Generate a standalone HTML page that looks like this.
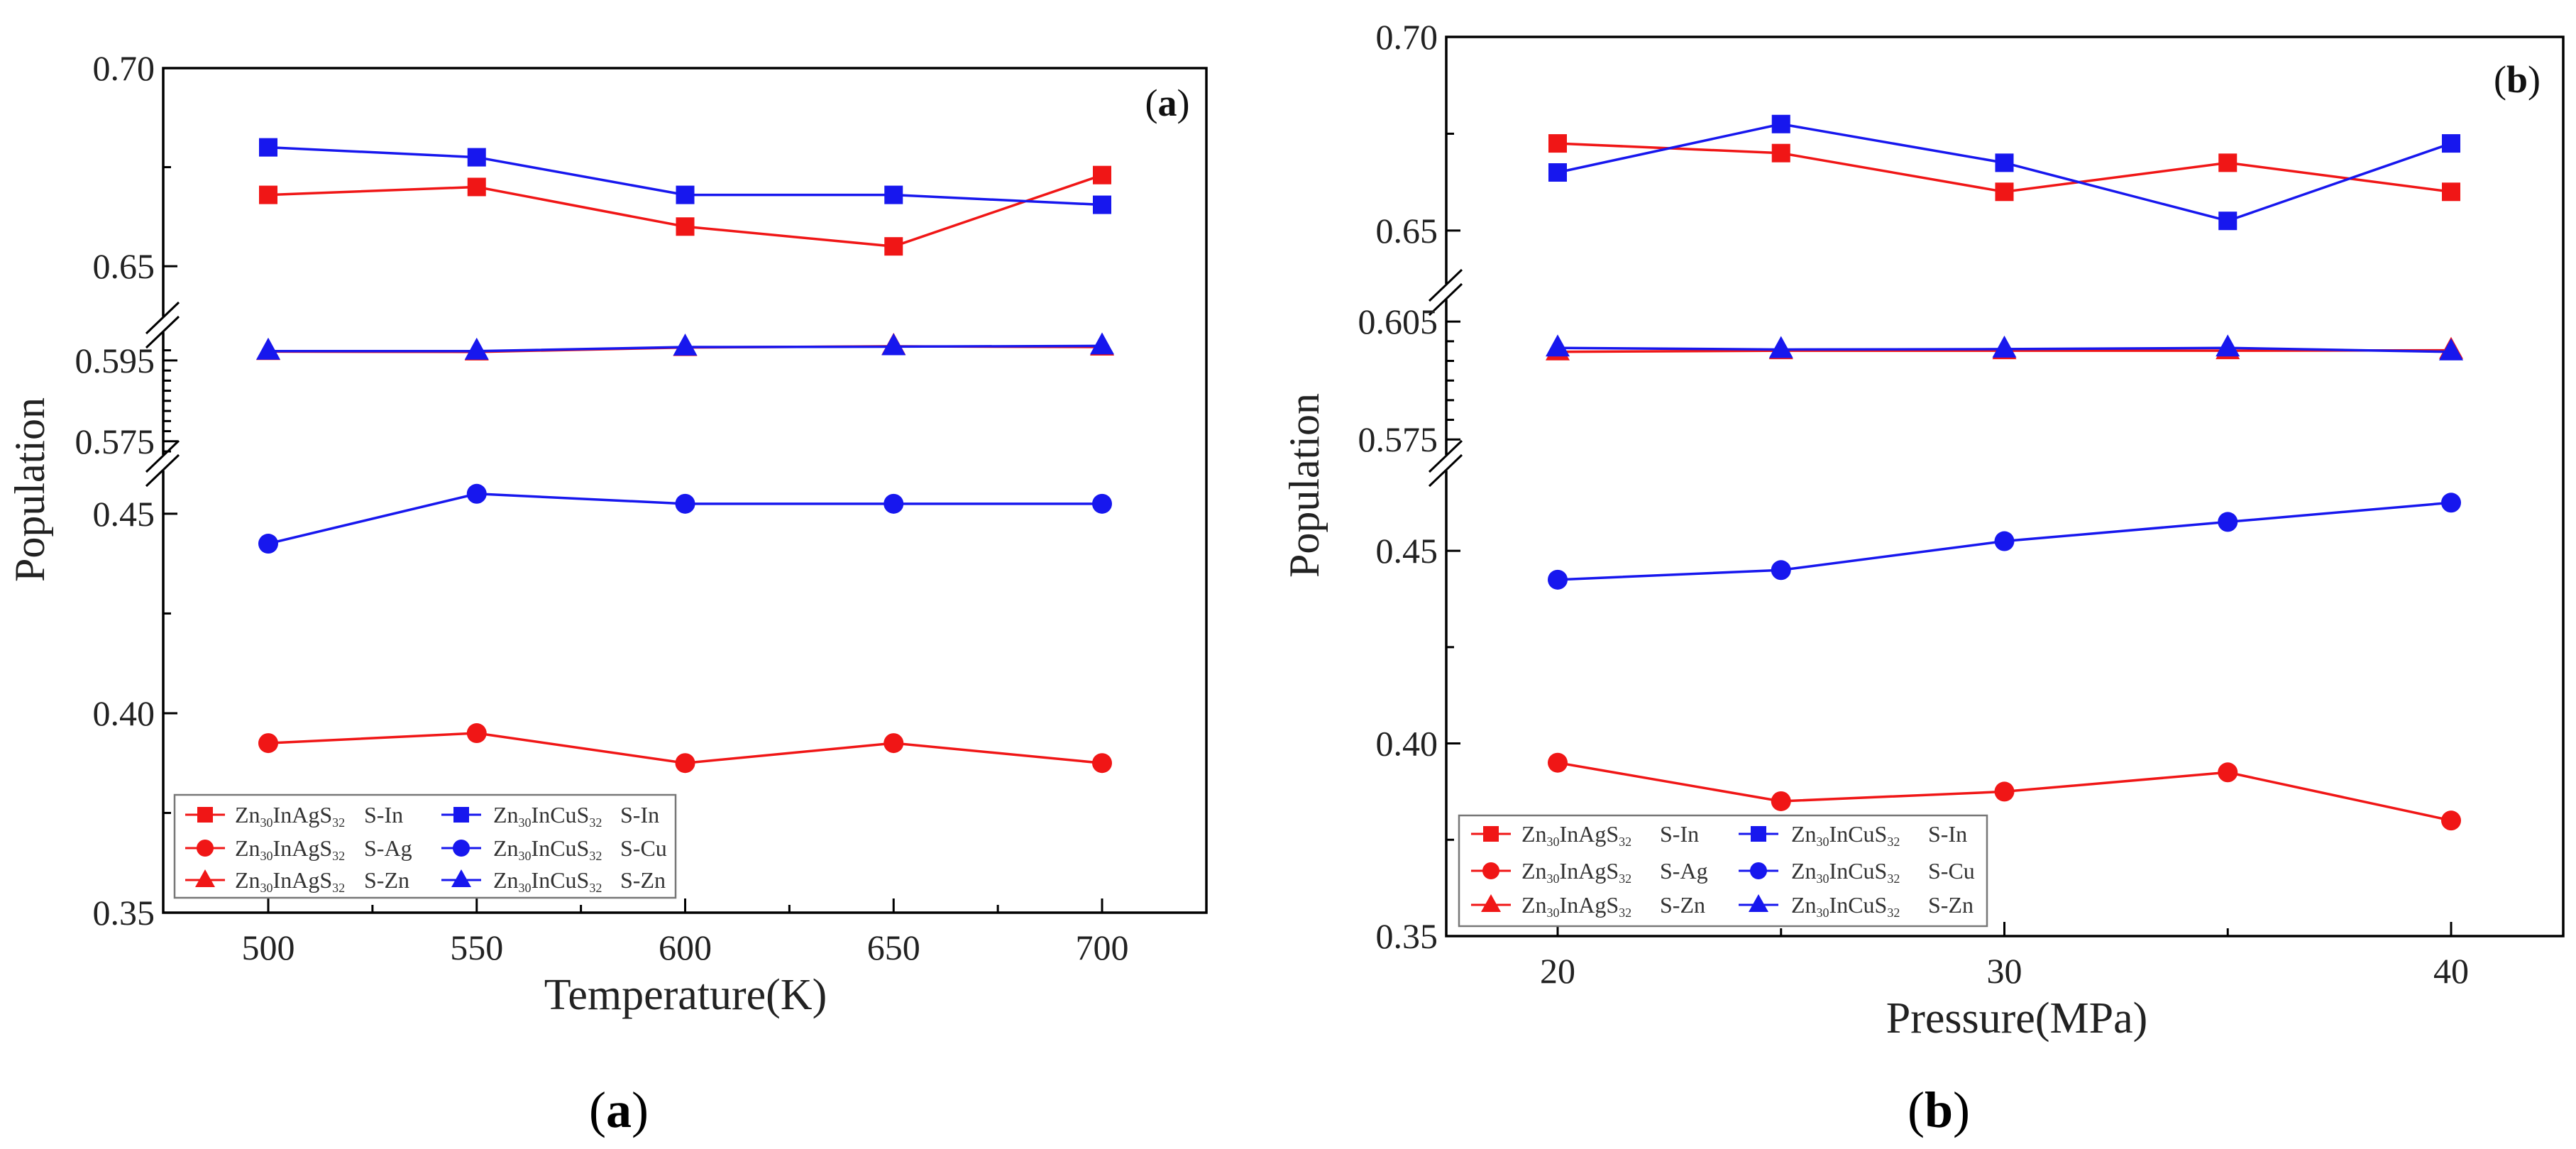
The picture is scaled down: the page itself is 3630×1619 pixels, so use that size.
<!DOCTYPE html>
<html><head><meta charset="utf-8"><style>
html,body{margin:0;padding:0;background:#fff;}
svg{display:block;}
svg text{font-family:"Liberation Serif","DejaVu Serif",serif;}
</style></head><body>
<svg id="fig" width="3630" height="1619" viewBox="0 0 3630 1619" xmlns="http://www.w3.org/2000/svg" font-family="'Liberation Serif', 'DejaVu Serif', serif"></svg>
<script>
// ---------- Panel (a) data ----------
const tempCategories = [500, 550, 600, 650, 700];
const aAgIn = [0.668, 0.670, 0.660, 0.655, 0.673];
const aCuIn = [0.680, 0.6775, 0.668, 0.668, 0.6655];
const aAgZn = [0.5972, 0.5971, 0.5982, 0.5985, 0.5983];
const aCuZn = [0.5973, 0.5973, 0.5983, 0.5984, 0.5986];
const aCuCu = [0.4425, 0.455, 0.4525, 0.4525, 0.4525];
const aAgAg = [0.3925, 0.395, 0.3875, 0.3925, 0.3875];
const aXTicks = [500, 550, 600, 650, 700];
const aYTickLabels = ["0.70", "0.65", "0.595", "0.575", "0.45", "0.40", "0.35"];
const aYTickValues = [0.70, 0.65, 0.595, 0.575, 0.45, 0.40, 0.35];

// ---------- Panel (b) data ----------
const pressCategories = [20, 25, 30, 35, 40];
const bAgIn = [0.6725, 0.670, 0.660, 0.6675, 0.660];
const bCuIn = [0.665, 0.6775, 0.6675, 0.6525, 0.6725];
const bAgZn = [0.5973, 0.5976, 0.5976, 0.5976, 0.5977];
const bCuZn = [0.5983, 0.5979, 0.5980, 0.5983, 0.5973];
const bCuCu = [0.4425, 0.445, 0.4525, 0.4575, 0.4625];
const bAgAg = [0.395, 0.385, 0.3875, 0.3925, 0.380];
const bXTicks = [20, 30, 40];
const bYTickLabels = ["0.70", "0.65", "0.605", "0.575", "0.45", "0.40", "0.35"];
const bYTickValues = [0.70, 0.65, 0.605, 0.575, 0.45, 0.40, 0.35];

const RED = "#f01616", BLUE = "#1717ee";
const FONT = "'Liberation Serif', 'DejaVu Serif', serif";
const NS = "http://www.w3.org/2000/svg";
const svg = document.getElementById("fig");
function mk(tag, attrs, parent, text) {
  const e = document.createElementNS(NS, tag);
  for (const k in attrs) e.setAttribute(k, attrs[k]);
  if (tag === "text") e.setAttribute("font-family", FONT);
  if (text !== undefined) e.textContent = text;
  (parent || svg).appendChild(e);
  return e;
}

function drawPanel(cfg) {
  const g = mk("g", {});
  
  
  function y(v) {
    for (const s of cfg.segs) {
      if (v >= s.v0 - 1e-9 && v <= s.v1 + 1e-9) return s.y0 + (v - s.v0) / (s.v1 - s.v0) * (s.y1 - s.y0);
    }
    return NaN;
  }
  function x(v) { return cfg.xl + (v - cfg.x0) / (cfg.x1 - cfg.x0) * (cfg.xr - cfg.xl); }
  const L = cfg.L, R = cfg.R, T = cfg.T, B = cfg.B;
  const fr = mk("rect", {x: L, y: T, width: R - L, height: B - T, fill: "none", stroke: "#000", "stroke-width": 3.5}, g);
  
  
  for (const by of cfg.breaks) {
    mk("rect", {x: L - 4, y: by - 14, width: 8, height: 22, fill: "#fff"}, g);
    for (const d of [-10, 10]) {
      const bl = mk("line", {x1: L - 24, y1: by + d + 20, x2: L + 22, y2: by + d - 24, stroke: "#000", "stroke-width": 3}, g);
      
      
    }
  }
  cfg.yTickValues.forEach((v, i) => {
    const yy = y(v);
    mk("line", {x1: L, y1: yy, x2: L + 20, y2: yy, stroke: "#000", "stroke-width": 3}, g);
    const t = mk("text", {x: L - 12, y: yy + 17, "text-anchor": "end", "font-size": 50, fill: "#222"}, g, cfg.yTickLabels[i]);
    
    
  });
  cfg.yMinor.forEach(v => {
    const yy = y(v);
    mk("line", {x1: L, y1: yy, x2: L + 11, y2: yy, stroke: "#000", "stroke-width": 3}, g);
  });
  cfg.xTicks.forEach(v => {
    const xx = x(v);
    mk("line", {x1: xx, y1: B, x2: xx, y2: B - 20, stroke: "#000", "stroke-width": 3}, g);
    const t = mk("text", {x: xx, y: B + 66, "text-anchor": "middle", "font-size": 50, fill: "#222"}, g, String(v));
    
    
  });
  cfg.xMinor.forEach(v => {
    const xx = x(v);
    mk("line", {x1: xx, y1: B, x2: xx, y2: B - 11, stroke: "#000", "stroke-width": 3}, g);
  });
  const yt = mk("text", {x: 0, y: 0, "text-anchor": "middle", "font-size": 60, fill: "#222", transform: `translate(${cfg.ytX},${cfg.ytY}) rotate(-90)`}, g, "Population");
  
  
  const xt = mk("text", {x: cfg.xtX, y: cfg.xtY, "text-anchor": "middle", "font-size": 62, fill: "#222"}, g, cfg.xTitle);
  
  
  const pl = mk("text", {x: cfg.plX, y: cfg.plY, "text-anchor": "middle", "font-size": 54, fill: "#111"}, g);
  
  
  mk("tspan", {}, pl, "(");
  mk("tspan", {"font-weight": "bold"}, pl, cfg.letter);
  mk("tspan", {}, pl, ")");

  function marker(shape, cx, cy, color, parent) {
    if (shape === "sq") return mk("rect", {x: cx - 13, y: cy - 13, width: 26, height: 26, fill: color}, parent);
    if (shape === "ci") return mk("circle", {cx: cx, cy: cy, r: 14, fill: color}, parent);
    return mk("polygon", {points: `${cx},${cy - 19} ${cx - 17},${cy + 12} ${cx + 17},${cy + 12}`, fill: color}, parent);
  }
  cfg.series.forEach(s => {
    const sg = mk("g", {}, g);
    
    
    const pts = s.vals.map((v, i) => [x(cfg.cats[i]), y(v)]);
    mk("polyline", {points: pts.map(p => p.join(",")).join(" "), fill: "none", stroke: s.color, "stroke-width": 3.5}, sg);
    pts.forEach(p => {
      const m = marker(s.shape, p[0], p[1], s.color, sg);
      
      
    });
  });
  const lg = mk("g", {}, g);
  
  
  const Lb = cfg.leg;
  mk("rect", {x: Lb.x, y: Lb.y, width: Lb.w, height: Lb.h, fill: "#fff", stroke: "#777", "stroke-width": 2.5}, lg);
  const rows = [["sq", "S-In", "S-In"], ["ci", "S-Ag", "S-Cu"], ["tr", "S-Zn", "S-Zn"]];
  rows.forEach((r, i) => {
    const ry = Lb.rows[i];
    [[RED, "InAgS", r[1], 0], [BLUE, "InCuS", r[2], 1]].forEach(c => {
      const ent = mk("g", {}, lg);
      
      
      const mx = Lb.mx[c[3]];
      mk("line", {x1: mx - 28, y1: ry, x2: mx + 28, y2: ry, stroke: c[0], "stroke-width": 3}, ent);
      const sc = r[0];
      if (sc === "sq") mk("rect", {x: mx - 11, y: ry - 11, width: 22, height: 22, fill: c[0]}, ent);
      else if (sc === "ci") mk("circle", {cx: mx, cy: ry, r: 12, fill: c[0]}, ent);
      else mk("polygon", {points: `${mx},${ry - 15} ${mx - 14},${ry + 10} ${mx + 14},${ry + 10}`, fill: c[0]}, ent);
      const t = mk("text", {x: Lb.tx[c[3]], y: ry + 11, "font-size": 32, fill: "#333"}, ent);
      mk("tspan", {}, t, "Zn");
      mk("tspan", {"font-size": 18, dy: 6}, t, "30");
      mk("tspan", {dy: -6}, t, c[1]);
      mk("tspan", {"font-size": 18, dy: 6}, t, "32");
      mk("text", {x: Lb.sx[c[3]], y: ry + 11, "font-size": 32, fill: "#333"}, ent, c[2]);
    });
  });
}

drawPanel({
  name: "panel-a-temperature", letter: "a",
  L: 230, R: 1700, T: 96, B: 1286,
  x0: 500, x1: 700, xl: 378, xr: 1553, cats: tempCategories,
  segs: [
    {v0: 0.35, v1: 0.4635, y0: 1286, y1: 648},
    {v0: 0.5704, v1: 0.6041, y0: 648, y1: 456},
    {v0: 0.6355, v1: 0.70, y0: 456, y1: 96}
  ],
  breaks: [460, 655],
  yTickValues: aYTickValues, yTickLabels: aYTickLabels,
  yMinor: [0.675, 0.5975, 0.5925, 0.59, 0.5875, 0.585, 0.5825, 0.58, 0.5775, 0.5725, 0.425, 0.375],
  xTicks: aXTicks, xMinor: [525, 575, 625, 675],
  ytX: 62, ytY: 690, xtX: 966, xtY: 1422, xTitle: "Temperature(K)", plX: 1645, plY: 163,
  series: [
    {name: "series-AgS-In", vals: aAgIn, color: RED, shape: "sq"},
    {name: "series-CuS-In", vals: aCuIn, color: BLUE, shape: "sq"},
    {name: "series-AgS-Zn", vals: aAgZn, color: RED, shape: "tr"},
    {name: "series-CuS-Zn", vals: aCuZn, color: BLUE, shape: "tr"},
    {name: "series-CuS-Cu", vals: aCuCu, color: BLUE, shape: "ci"},
    {name: "series-AgS-Ag", vals: aAgAg, color: RED, shape: "ci"}
  ],
  leg: {x: 246, y: 1120, w: 706, h: 145, rows: [1148, 1195, 1240], mx: [289, 650], tx: [331, 695], sx: [513, 874]}
});

drawPanel({
  name: "panel-b-pressure", letter: "b",
  L: 2038, R: 3612, T: 52, B: 1319,
  x0: 20, x1: 40, xl: 2195, xr: 3454, cats: pressCategories,
  segs: [
    {v0: 0.35, v1: 0.4736, y0: 1319, y1: 648},
    {v0: 0.5698, v1: 0.6128, y0: 648, y1: 410},
    {v0: 0.6344, v1: 0.70, y0: 410, y1: 52}
  ],
  breaks: [414, 655],
  yTickValues: bYTickValues, yTickLabels: bYTickLabels,
  yMinor: [0.675, 0.6, 0.595, 0.59, 0.585, 0.58, 0.425, 0.375],
  xTicks: bXTicks, xMinor: [25, 35],
  ytX: 1858, ytY: 684, xtX: 2842, xtY: 1455, xTitle: "Pressure(MPa)", plX: 3547, plY: 130,
  series: [
    {name: "series-AgS-In", vals: bAgIn, color: RED, shape: "sq"},
    {name: "series-CuS-In", vals: bCuIn, color: BLUE, shape: "sq"},
    {name: "series-AgS-Zn", vals: bAgZn, color: RED, shape: "tr"},
    {name: "series-CuS-Zn", vals: bCuZn, color: BLUE, shape: "tr"},
    {name: "series-CuS-Cu", vals: bCuCu, color: BLUE, shape: "ci"},
    {name: "series-AgS-Ag", vals: bAgAg, color: RED, shape: "ci"}
  ],
  leg: {x: 2056, y: 1149, w: 744, h: 156, rows: [1175, 1227, 1275], mx: [2101, 2478], tx: [2144, 2524], sx: [2339, 2717]}
});

[["a", 872], ["b", 2732]].forEach(c => {
  const t = mk("text", {x: c[1], y: 1588, "text-anchor": "middle", "font-size": 72, fill: "#000"});
  
  
  mk("tspan", {}, t, "(");
  mk("tspan", {"font-weight": "bold"}, t, c[0]);
  mk("tspan", {}, t, ")");
});
</script>
</body></html>
